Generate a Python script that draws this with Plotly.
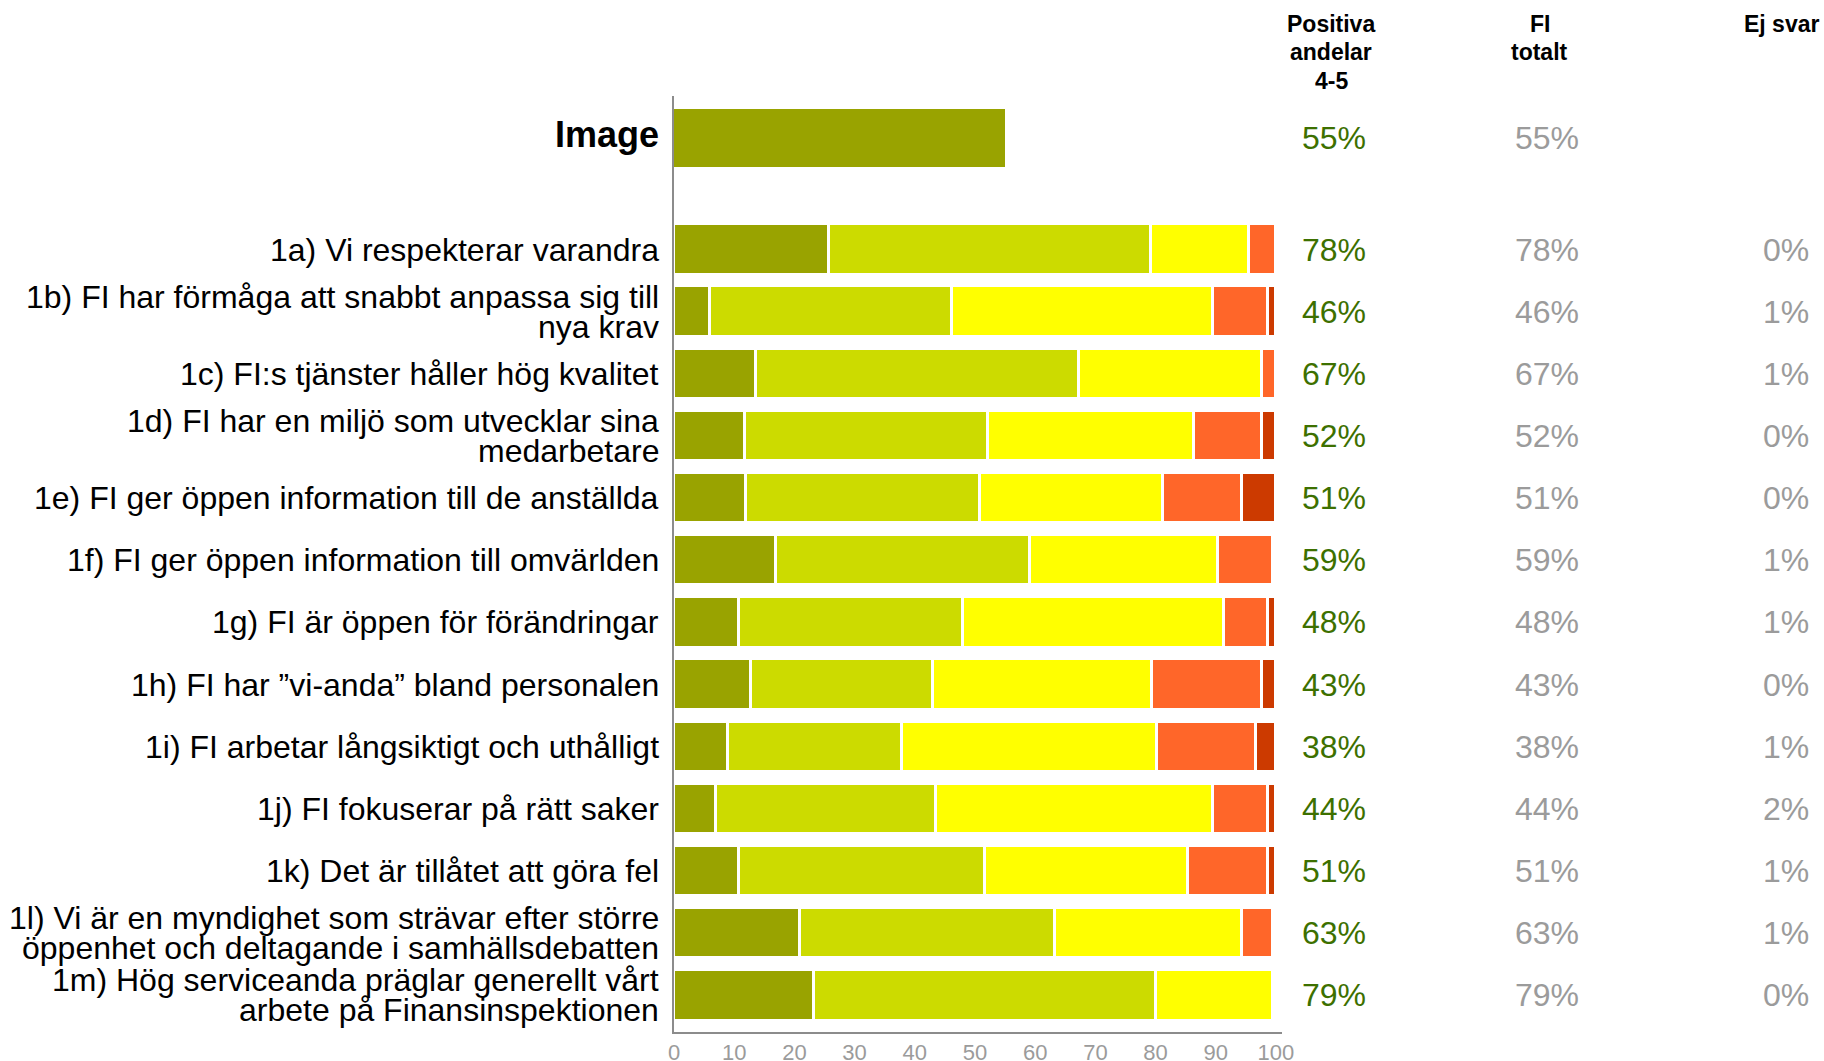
import plotly.graph_objects as go

# ---------------- data ----------------
image_label = "Image"
image_value = 55
image_pos_share = "55%"
image_fi_total = "55%"

labels = [
    "1a) Vi respekterar varandra",
    "1b) FI har förmåga att snabbt anpassa sig till<br>nya krav",
    "1c) FI:s tjänster håller hög kvalitet",
    "1d) FI har en miljö som utvecklar sina<br>medarbetare",
    "1e) FI ger öppen information till de anställda",
    "1f) FI ger öppen information till omvärlden",
    "1g) FI är öppen för förändringar",
    "1h) FI har ”vi-anda” bland personalen",
    "1i) FI arbetar långsiktigt och uthålligt",
    "1j) FI fokuserar på rätt saker",
    "1k) Det är tillåtet att göra fel",
    "1l) Vi är en myndighet som strävar efter större<br>öppenhet och deltagande i samhällsdebatten",
    "1m) Hög serviceanda präglar generellt vårt<br>arbete på Finansinspektionen",
]

grade5 = [25.8, 5.9, 13.7, 11.8, 12.0, 17.0, 10.8, 12.8, 8.9, 6.9, 10.8, 20.9, 23.2]
grade4 = [53.5, 40.2, 53.5, 40.4, 38.8, 42.1, 37.2, 30.3, 29.0, 36.7, 40.9, 42.4, 56.9]
grade3 = [16.3, 43.4, 30.4, 34.2, 30.5, 31.3, 43.4, 36.3, 42.4, 45.9, 33.7, 31.1, 19.4]
grade2 = [4.4, 9.1, 2.4, 11.2, 13.1, 9.1, 7.2, 18.2, 16.3, 9.1, 13.2, 5.1, 0.5]
grade1 = [0.0, 1.4, 0.0, 2.4, 5.6, 0.5, 1.4, 2.4, 3.4, 1.4, 1.4, 0.5, 0.0]

positive_share = ["78%", "46%", "67%", "52%", "51%", "59%", "48%", "43%", "38%", "44%", "51%", "63%", "79%"]
fi_total = ["78%", "46%", "67%", "52%", "51%", "59%", "48%", "43%", "38%", "44%", "51%", "63%", "79%"]
no_answer = ["0%", "1%", "1%", "0%", "0%", "1%", "1%", "0%", "1%", "2%", "1%", "1%", "0%"]

x_ticks = [0, 10, 20, 30, 40, 50, 60, 70, 80, 90, 100]

col_headers = ["Positiva<br>andelar<br>4-5", "FI<br>totalt", "Ej svar"]

# ---------------- layout helpers ----------------
FONT = "Arial, Liberation Sans, sans-serif"
colors = ["#99A300", "#CCDB00", "#FFFF00", "#FF6629", "#CC3A00"]
series = [grade5, grade4, grade3, grade2, grade1]

W, H = 1824, 1061
M_L, M_R, M_T, M_B = 674, 542, 96, 29
PLOT_H = H - M_T - M_B

item_pos = list(range(len(labels)))
image_pos = -1.8

fig = go.Figure()

fig.add_trace(go.Bar(
    x=[image_value], y=[image_pos], orientation="h", width=0.93,
    marker=dict(color=colors[0], line=dict(width=0)),
    showlegend=False, hoverinfo="skip",
))

for vals, col in zip(series, colors):
    fig.add_trace(go.Bar(
        x=vals, y=item_pos, orientation="h", width=0.81,
        marker=dict(color=col, line=dict(color="white", width=3.5)),
        showlegend=False, hoverinfo="skip",
    ))

annotations = []

# category labels (each line separately for tight line spacing)
annotations.append(dict(
    x=0, xref="paper", y=image_pos, yref="y", xanchor="right", yanchor="middle",
    xshift=-13, yshift=3, text="<b>" + image_label + "</b>", showarrow=False,
    font=dict(family=FONT, size=36, color="black"),
))
LINE_STEP = 30
for p, lab in zip(item_pos, labels):
    lines = lab.split("<br>")
    n = len(lines)
    for k, ln in enumerate(lines):
        shift = ((n - 1) / 2 - k) * LINE_STEP
        annotations.append(dict(
            x=0, xref="paper", y=p, yref="y", xanchor="right", yanchor="middle",
            xshift=-13, yshift=shift, text=ln, showarrow=False,
            font=dict(family=FONT, size=32, color="black"),
        ))

# column headers (one annotation per line, tight spacing)
header_x = [1.0806, 1.424, 1.822]
HEADER_TOP_PX = 23.5
HEADER_STEP_PX = 28.5
for hx, h in zip(header_x, col_headers):
    for k, ln in enumerate(h.split("<br>")):
        py = HEADER_TOP_PX + k * HEADER_STEP_PX
        annotations.append(dict(
            x=hx, xref="paper", y=(H - M_B - py) / PLOT_H, yref="paper",
            xanchor="center", yanchor="middle",
            text="<b>" + ln + "</b>", showarrow=False,
            font=dict(family=FONT, size=23, color="black"),
        ))

GREEN = "#3D7000"
GRAY = "#9B9B9B"
col1_x, col2_x, col3_x = 1.0855, 1.436, 1.870

annotations.append(dict(x=col1_x, xref="paper", y=image_pos, yref="y", xanchor="center",
                        yanchor="middle", text=image_pos_share, showarrow=False,
                        font=dict(family=FONT, size=32, color=GREEN)))
annotations.append(dict(x=col2_x, xref="paper", y=image_pos, yref="y", xanchor="center",
                        yanchor="middle", text=image_fi_total, showarrow=False,
                        font=dict(family=FONT, size=32, color=GRAY)))

for p, a, b, c in zip(item_pos, positive_share, fi_total, no_answer):
    annotations.append(dict(x=col1_x, xref="paper", y=p, yref="y", xanchor="center",
                            yanchor="middle", text=a, showarrow=False,
                            font=dict(family=FONT, size=32, color=GREEN)))
    annotations.append(dict(x=col2_x, xref="paper", y=p, yref="y", xanchor="center",
                            yanchor="middle", text=b, showarrow=False,
                            font=dict(family=FONT, size=32, color=GRAY)))
    annotations.append(dict(x=col3_x, xref="paper", y=p, yref="y", xanchor="right",
                            yanchor="middle", text=c, showarrow=False,
                            font=dict(family=FONT, size=32, color=GRAY)))

fig.update_layout(
    width=W, height=H,
    margin=dict(l=M_L, r=M_R, t=M_T, b=M_B, autoexpand=False),
    barmode="stack",
    bargap=0,
    plot_bgcolor="white", paper_bgcolor="white",
    font=dict(family=FONT),
    xaxis=dict(
        range=[0, 101], tickvals=x_ticks, ticktext=[str(t) for t in x_ticks],
        showgrid=False, zeroline=False, showline=True, linecolor="#8C8C8C", linewidth=2,
        ticks="", tickfont=dict(family=FONT, size=22, color="#9B9B9B"),
        fixedrange=True,
    ),
    yaxis=dict(
        range=[12.59, -2.47], showgrid=False, zeroline=False, showline=True,
        linecolor="#8C8C8C", linewidth=2, showticklabels=False, ticks="",
        fixedrange=True,
    ),
    annotations=annotations,
)

fig.write_html("out.html", config={"displayModeBar": False},
               post_script="document.body.style.margin='0';document.body.style.overflow='hidden';")
